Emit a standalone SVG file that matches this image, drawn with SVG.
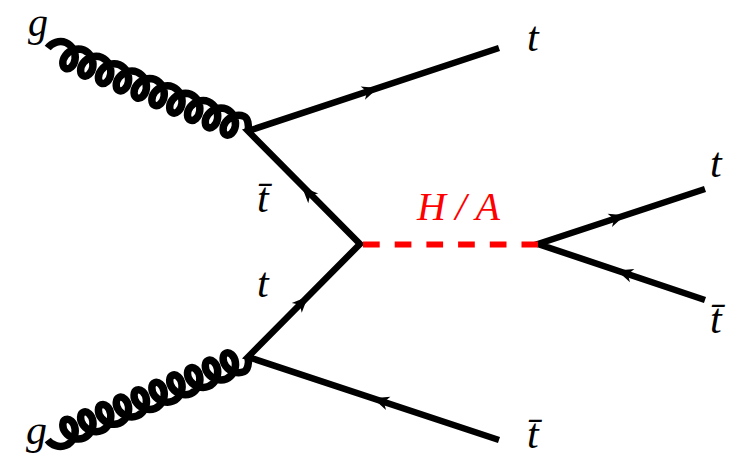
<svg xmlns="http://www.w3.org/2000/svg" xmlns:xlink="http://www.w3.org/1999/xlink" width="741" height="461" viewBox="0 0 741 461">
<style>
.f{fill:none;stroke:#000;stroke-width:6.5;stroke-linejoin:miter;stroke-linecap:butt}
.gl{fill:none;stroke:#000;stroke-width:7.5;stroke-linejoin:round;stroke-linecap:butt}
.sc{fill:none;stroke:#ff0000;stroke-width:6;stroke-dasharray:16.7 15}
.ah{fill:#000}
.lb{font-family:"Liberation Serif","DejaVu Serif",serif;font-style:italic;font-size:42px;fill:#000}
.lr{font-family:"Liberation Serif","DejaVu Serif",serif;font-style:italic;font-size:40px;fill:#ff0000}
</style>
<defs>
<path id="ah" d="M0,0 L-16,-7 L-11.5,0 L-16,7 Z"/>
<path id="gluon" class="gl" d="M-2.5,0
c1.66,-6.48 7.77,-12 14.82,-12 c7.06,0 13.16,5.52 14.82,12 c1.66,6.48 -1.44,12 -5.18,12 c-3.74,0 -6.84,-5.52 -5.18,-12
c1.66,-6.48 7.77,-12 14.82,-12 c7.06,0 13.16,5.52 14.82,12 c1.66,6.48 -1.44,12 -5.18,12 c-3.74,0 -6.84,-5.52 -5.18,-12
c1.66,-6.48 7.77,-12 14.82,-12 c7.06,0 13.16,5.52 14.82,12 c1.66,6.48 -1.44,12 -5.18,12 c-3.74,0 -6.84,-5.52 -5.18,-12
c1.66,-6.48 7.77,-12 14.82,-12 c7.06,0 13.16,5.52 14.82,12 c1.66,6.48 -1.44,12 -5.18,12 c-3.74,0 -6.84,-5.52 -5.18,-12
c1.66,-6.48 7.77,-12 14.82,-12 c7.06,0 13.16,5.52 14.82,12 c1.66,6.48 -1.44,12 -5.18,12 c-3.74,0 -6.84,-5.52 -5.18,-12
c1.66,-6.48 7.77,-12 14.82,-12 c7.06,0 13.16,5.52 14.82,12 c1.66,6.48 -1.44,12 -5.18,12 c-3.74,0 -6.84,-5.52 -5.18,-12
c1.66,-6.48 7.77,-12 14.82,-12 c7.06,0 13.16,5.52 14.82,12 c1.66,6.48 -1.44,12 -5.18,12 c-3.74,0 -6.84,-5.52 -5.18,-12
c1.66,-6.48 7.77,-12 14.82,-12 c7.06,0 13.16,5.52 14.82,12 c1.66,6.48 -1.44,12 -5.18,12 c-3.74,0 -6.84,-5.52 -5.18,-12
c1.66,-6.48 7.77,-12 14.82,-12 c7.06,0 13.16,5.52 14.82,12 c1.66,6.48 -1.44,12 -5.18,12 c-3.74,0 -6.84,-5.52 -5.18,-12
c1.66,-6.48 7.77,-12 14.82,-12 c7.06,0 13.16,5.52 14.82,12 c1.66,6.48 -1.44,12 -5.18,12 c-3.74,0 -6.84,-5.52 -5.18,-12
c1.66,-6.48 7.77,-12 14.82,-12 c4,0 8,6 9.2,12"/>
</defs>
<rect width="741" height="461" fill="#fff"/>
<g id="connectors">
<g id="gluon-top" transform="translate(50,49) rotate(22.5)"><use xlink:href="#gluon" href="#gluon"/></g>
<g id="gluon-bottom" transform="translate(0,488) scale(1,-1) translate(50,49) rotate(22.5)"><use xlink:href="#gluon" href="#gluon"/></g>
<path id="fermion-left" class="f" d="M499,48 L248,131 L360,244 L248,357 L499,440"/>
<path id="fermion-right" class="f" d="M705,189 L538,244 L705,300"/>
<line id="higgs" class="sc" x1="363" y1="244.5" x2="538" y2="244.5"/>
<g class="ah">
<use xlink:href="#ah" href="#ah" transform="translate(378,88) rotate(-18.3)"/>
<use xlink:href="#ah" href="#ah" transform="translate(302,187) rotate(-134.7)"/>
<use xlink:href="#ah" href="#ah" transform="translate(308,296.5) rotate(-45.3)"/>
<use xlink:href="#ah" href="#ah" transform="translate(373,398.3) rotate(198.3)"/>
<use xlink:href="#ah" href="#ah" transform="translate(625,215.3) rotate(-18.2)"/>
<use xlink:href="#ah" href="#ah" transform="translate(617,270.5) rotate(198.5)"/>
</g>
</g>
<g id="label-g-top"><text class="lb" x="28" y="36" style="font-size:40px">g</text></g>
<g id="label-t-top"><text class="lb" x="527" y="51">t</text></g>
<g id="label-tbar-mid"><text class="lb" x="257" y="212">t̄</text></g>
<g id="label-t-mid"><text class="lb" x="257" y="297">t</text></g>
<g id="label-HA"><text class="lr" x="417" y="220" textLength="83" lengthAdjust="spacing">H/A</text></g>
<g id="label-t-right"><text class="lb" x="710" y="177">t</text></g>
<g id="label-tbar-right"><text class="lb" x="710" y="333">t̄</text></g>
<g id="label-g-bottom"><text class="lb" x="26" y="444">g</text></g>
<g id="label-tbar-bottom"><text class="lb" x="527" y="448">t̄</text></g>
</svg>
